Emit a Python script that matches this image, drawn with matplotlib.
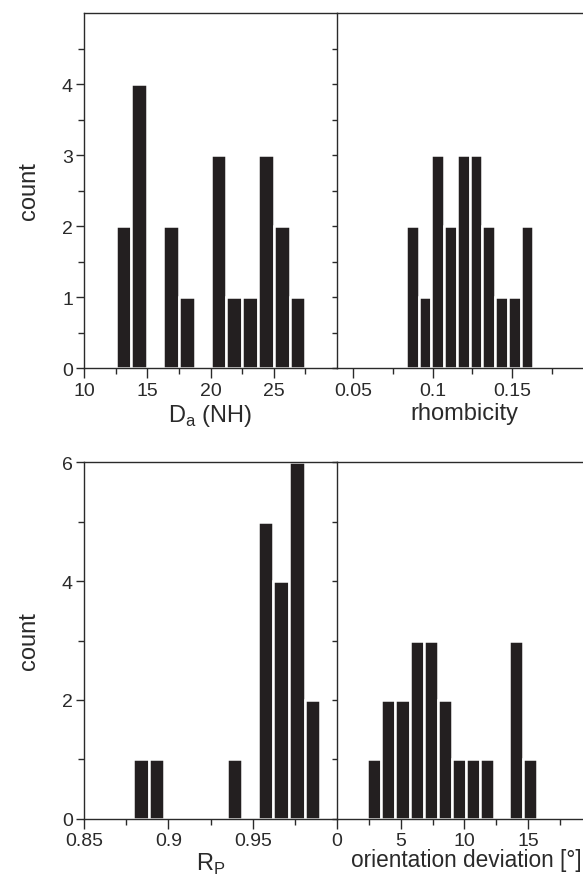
import numpy as np
import matplotlib
matplotlib.use("Agg")
import matplotlib.pyplot as plt
from matplotlib.ticker import FixedLocator

plt.rcParams['font.family'] = ['Liberation Sans', 'DejaVu Sans']
plt.rcParams['mathtext.fontset'] = 'custom'
plt.rcParams['mathtext.rm'] = 'Liberation Sans'

# histogram data (bin start, bin width, counts)
da_start, da_width = 12.5, 1.25
da_counts = [2, 4, 0, 2, 1, 0, 3, 1, 1, 3, 2, 1]

rh_start, rh_width = 0.0833, 0.008
rh_counts = [2, 1, 3, 2, 3, 3, 2, 1, 1, 2]

rp_start, rp_width = 0.879, 0.00925
rp_counts = [1, 1, 0, 0, 0, 0, 1, 0, 5, 4, 6, 2]

od_start, od_width = 2.36, 1.11
od_counts = [1, 2, 2, 3, 3, 2, 1, 1, 1, 0, 3, 1]

bar_col = '#231f20'
ax_col = '#2a2a2a'
tick_fs = 14
label_fs = 17

fig = plt.figure(figsize=(5.83, 8.78), dpi=100)

ax_tl = fig.add_axes([0.1441, 0.5797, 0.4340, 0.4043])
ax_tr = fig.add_axes([0.5780, 0.5797, 0.4374, 0.4043])
ax_bl = fig.add_axes([0.1441, 0.0666, 0.4340, 0.4055])
ax_br = fig.add_axes([0.5780, 0.0666, 0.4374, 0.4055])


def draw_hist(ax, start, width, counts):
    lefts = start + width * np.arange(len(counts))
    ax.bar(lefts, counts, width=width, align='edge', color=bar_col,
           edgecolor='white', linewidth=1.8, zorder=2)


def style(ax, left_panel):
    for s in ax.spines.values():
        s.set_color(ax_col)
        s.set_linewidth(1.0)
        s.set_zorder(3)
    ax.spines['right'].set_visible(False)
    if left_panel:
        ax.tick_params(axis='y', which='major', length=6, direction='out')
        ax.tick_params(axis='y', which='minor', length=4, direction='out')
    else:
        ax.tick_params(axis='y', which='both', length=3.5, direction='out',
                       labelleft=False)
    ax.tick_params(axis='x', which='major', length=7, direction='out', pad=3)
    ax.tick_params(axis='x', which='minor', length=4, direction='out')
    ax.tick_params(axis='y', which='major', pad=2)
    ax.tick_params(which='both', width=1.0, color=ax_col, labelcolor=ax_col,
                   labelsize=tick_fs)


# top left: D_a (NH)
draw_hist(ax_tl, da_start, da_width, da_counts)
ax_tl.set_xlim(10, 30)
ax_tl.set_ylim(0, 5)
ax_tl.xaxis.set_major_locator(FixedLocator([10, 15, 20, 25]))
ax_tl.xaxis.set_minor_locator(FixedLocator([12.5, 17.5, 22.5, 27.5]))
ax_tl.yaxis.set_major_locator(FixedLocator([0, 1, 2, 3, 4]))
ax_tl.yaxis.set_minor_locator(FixedLocator([0.5, 1.5, 2.5, 3.5, 4.5]))
ax_tl.set_xlabel(r'D$_{\mathregular{a}}$ (NH)', fontsize=label_fs, color=ax_col, labelpad=2)
ax_tl.set_ylabel('count', fontsize=label_fs, color=ax_col, labelpad=16)
style(ax_tl, True)

# top right: rhombicity
draw_hist(ax_tr, rh_start, rh_width, rh_counts)
ax_tr.set_xlim(0.04, 0.2)
ax_tr.set_ylim(0, 5)
ax_tr.xaxis.set_major_locator(FixedLocator([0.05, 0.1, 0.15]))
ax_tr.set_xticklabels(['0.05', '0.1', '0.15'])
ax_tr.xaxis.set_minor_locator(FixedLocator([0.075, 0.125, 0.175]))
ax_tr.yaxis.set_major_locator(FixedLocator([0, 1, 2, 3, 4]))
ax_tr.yaxis.set_minor_locator(FixedLocator([0.5, 1.5, 2.5, 3.5, 4.5]))
ax_tr.set_xlabel('rhombicity', fontsize=label_fs, color=ax_col, labelpad=2)
style(ax_tr, False)

# bottom left: R_P
draw_hist(ax_bl, rp_start, rp_width, rp_counts)
ax_bl.set_xlim(0.85, 1.0)
ax_bl.set_ylim(0, 6)
ax_bl.xaxis.set_major_locator(FixedLocator([0.85, 0.9, 0.95]))
ax_bl.set_xticklabels(['0.85', '0.9', '0.95'])
ax_bl.xaxis.set_minor_locator(FixedLocator([0.875, 0.925, 0.975]))
ax_bl.yaxis.set_major_locator(FixedLocator([0, 2, 4, 6]))
ax_bl.yaxis.set_minor_locator(FixedLocator([1, 3, 5]))
ax_bl.set_xlabel(r'R$_{\mathregular{P}}$', fontsize=label_fs, color=ax_col, labelpad=1)
ax_bl.set_ylabel('count', fontsize=label_fs, color=ax_col, labelpad=16)
style(ax_bl, True)

# bottom right: orientation deviation
draw_hist(ax_br, od_start, od_width, od_counts)
ax_br.set_xlim(0, 20)
ax_br.set_ylim(0, 6)
ax_br.xaxis.set_major_locator(FixedLocator([0, 5, 10, 15]))
ax_br.xaxis.set_minor_locator(FixedLocator([2.5, 7.5, 12.5, 17.5]))
ax_br.yaxis.set_major_locator(FixedLocator([0, 2, 4, 6]))
ax_br.yaxis.set_minor_locator(FixedLocator([1, 3, 5]))
ax_br.set_xlabel('orientation deviation [°]', fontsize=16.3, color=ax_col)
ax_br.xaxis.set_label_coords(0.506, -0.083)
ax_br.xaxis.label.set_verticalalignment('top')
style(ax_br, False)

fig.savefig('out.png', dpi=100)
